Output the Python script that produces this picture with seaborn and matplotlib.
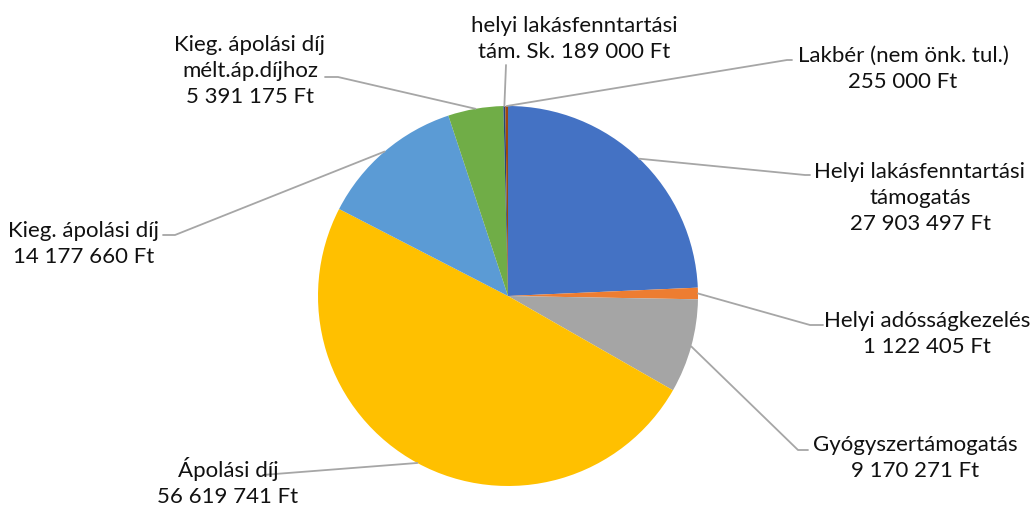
# -*- coding: utf-8 -*-
# %% biblioteke
import numpy as np
import matplotlib
matplotlib.use('Agg')
import matplotlib.pyplot as plt
import seaborn as sns

# %% podaci
kategorije = ['Helyi lakásfenntartási\ntámogatás', 'Helyi adósságkezelés',
              'Gyógyszertámogatás', 'Ápolási díj', 'Kieg. ápolási díj',
              'Kieg. ápolási díj\nmélt.áp.díjhoz', 'helyi lakásfenntartási\ntám. Sk.',
              'Lakbér (nem önk. tul.)']
vrednosti = [27903497, 1122405, 9170271, 56619741, 14177660, 5391175, 189000, 255000]
# iznos ide u isti red kao naziv (True) ili u novi red (False)
isti_red = [False, False, False, False, False, False, True, False]
boje = ['#4472C4', '#ED7D31', '#A5A5A5', '#FFC000', '#5B9BD5', '#70AD47', '#264478', '#9E480E']

# raspored (pikseli, y od vrha): centar teksta, lakat linije, kraj linije
tekst_xy = [(920, 198), (927, 334), (915, 458), (228, 482), (84, 244), (250, 71), (574, 39), (903, 69)]
lakat_xy = [(805, 175), (810, 325), (798, 450), (275, 474), (175, 235), (338, 77), (506, 65), (787, 60)]
kraj_xy = [(810, 175), (823, 325), (808, 450), (263, 475), (163, 235), (325, 77), (506, 65), (792, 60)]

W, H = 1035, 511
centar = (508, H - 296)
radijus = 190

# %% crtanje
sns.set_theme(style='white')
plt.rcParams['font.family'] = ['Lato', 'DejaVu Sans']

fig = plt.figure(figsize=(W / 100, H / 100), dpi=100)
ax = fig.add_axes([0, 0, 1, 1])

klinovi, _ = ax.pie(vrednosti, colors=sns.color_palette(boje), startangle=90,
                    counterclock=False, center=centar, radius=radijus,
                    wedgeprops=dict(linewidth=0))

def format_ft(v):
    return f'{v:,}'.replace(',', ' ') + ' Ft'

for i, w in enumerate(klinovi):
    ugao = np.deg2rad((w.theta1 + w.theta2) / 2)
    x0 = centar[0] + radijus * np.cos(ugao)
    y0 = centar[1] + radijus * np.sin(ugao)
    xs = [x0, lakat_xy[i][0], kraj_xy[i][0]]
    ys = [y0, H - lakat_xy[i][1], H - kraj_xy[i][1]]
    ax.plot(xs, ys, color='#A6A6A6', linewidth=1.3, zorder=1)
    sep = ' ' if isti_red[i] else '\n'
    ax.text(tekst_xy[i][0], H - tekst_xy[i][1], kategorije[i] + sep + format_ft(vrednosti[i]),
            ha='center', va='center', fontsize=16, linespacing=1.4, color='#111111')

ax.set_xlim(0, W)
ax.set_ylim(0, H)
ax.set_aspect('equal')
ax.axis('off')

fig.savefig('out.png', dpi=100)
